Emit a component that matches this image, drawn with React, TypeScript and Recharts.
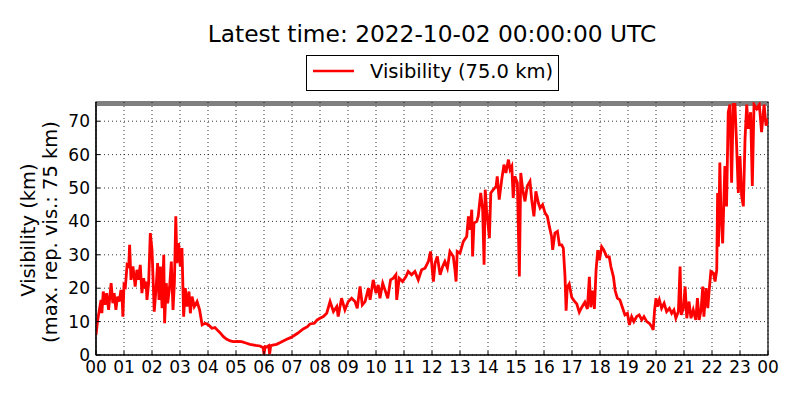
import React from 'react';
import {
  LineChart,
  Line,
  XAxis,
  YAxis,
  CartesianGrid,
  ReferenceLine,
  ReferenceArea,
} from 'recharts';

// Time of day in hours (UTC), one line per hour block
const hours: number[] = [
  0.0, 0.06, 0.12, 0.18, 0.21, 0.26, 0.32, 0.38, 0.45, 0.54, 0.6, 0.65, 0.71, 0.77, 0.83, 0.89, 0.93, 0.96,
  1.0, 1.05, 1.11, 1.17, 1.2, 1.25, 1.32, 1.4, 1.46, 1.52, 1.58, 1.64, 1.7, 1.76, 1.79, 1.82, 1.88, 1.94,
  2.0, 2.04, 2.08, 2.15, 2.2, 2.25, 2.3, 2.36, 2.42, 2.45, 2.51, 2.56, 2.63, 2.69, 2.75, 2.8, 2.85, 2.89, 2.95,
  3.01, 3.07, 3.13, 3.19, 3.25, 3.32, 3.37, 3.43, 3.51, 3.61, 3.7, 3.79, 3.9,
  4.02, 4.14, 4.25, 4.35, 4.43, 4.55, 4.67, 4.8, 4.9,
  5.05, 5.2, 5.35, 5.5, 5.7, 5.86, 5.97,
  6.0, 6.04, 6.1, 6.17, 6.2, 6.24, 6.35, 6.45, 6.6, 6.81, 6.95,
  7.05, 7.2, 7.4, 7.55, 7.64, 7.8, 7.9,
  8.0, 8.12, 8.24, 8.36, 8.48, 8.6, 8.65, 8.77, 8.89,
  9.01, 9.13, 9.25, 9.33, 9.43, 9.51, 9.61, 9.73, 9.79, 9.9,
  10.0, 10.08, 10.14, 10.24, 10.32, 10.42, 10.52, 10.62, 10.71, 10.74, 10.83, 10.95,
  11.07, 11.15, 11.27, 11.39, 11.51, 11.63, 11.75, 11.87, 11.95,
  12.05, 12.11, 12.19, 12.29, 12.38, 12.46, 12.55, 12.64, 12.76, 12.82, 12.86, 12.9,
  13.0, 13.12, 13.24, 13.3, 13.36, 13.42, 13.45, 13.5, 13.6, 13.65, 13.74, 13.81, 13.86, 13.9, 13.95,
  14.05, 14.1, 14.19, 14.29, 14.33, 14.4, 14.49, 14.57, 14.64, 14.73, 14.79, 14.85, 14.9, 14.96,
  15.05, 15.12, 15.17, 15.24, 15.32, 15.4, 15.5, 15.56, 15.64, 15.71, 15.8, 15.86, 15.95,
  16.04, 16.12, 16.19, 16.27, 16.31, 16.39, 16.48, 16.55, 16.63, 16.69, 16.75, 16.79, 16.83, 16.9, 16.99,
  17.07, 17.17, 17.26, 17.35, 17.46, 17.55, 17.62, 17.67, 17.74, 17.8, 17.86, 17.92, 17.98,
  18.06, 18.14, 18.24, 18.33, 18.39, 18.48, 18.54, 18.62, 18.71, 18.81, 18.89, 18.98,
  19.05, 19.13, 19.21, 19.31, 19.4, 19.49, 19.57, 19.67, 19.76, 19.85, 19.9, 19.95,
  20.0, 20.05, 20.12, 20.2, 20.29, 20.38, 20.48, 20.56, 20.64, 20.71, 20.8, 20.86, 20.9, 20.98,
  21.04, 21.1, 21.18, 21.25, 21.33, 21.42, 21.48, 21.54, 21.61, 21.67, 21.71, 21.79, 21.85, 21.9, 21.96,
  22.05, 22.11, 22.17, 22.2, 22.23, 22.28, 22.32, 22.38, 22.46, 22.52, 22.58, 22.64, 22.7, 22.76, 22.82, 22.88, 22.94,
  23.0, 23.06, 23.12, 23.18, 23.24, 23.3, 23.38, 23.44, 23.5, 23.6, 23.69, 23.77, 23.86, 23.93, 24.0,
];

// Visibility (km), same layout as hours
const visibility: number[] = [
  6, 10.5, 13.5, 16.5, 12.5, 19, 15, 18.5, 13.5, 21.5, 15.5, 18.5, 13.5, 17.5, 16, 19.5, 17.5, 11.5,
  21, 20.5, 27, 26.5, 33, 22.5, 26.5, 20.5, 25.5, 22.5, 27, 18.5, 23, 20, 22, 16.5, 21.5, 36.5,
  31.5, 22.5, 13, 20.5, 27.5, 16.5, 26.5, 14, 30, 9.5, 21.5, 15.5, 20.5, 28, 13.5, 21.5, 41.5, 27.5, 33.5,
  26.5, 32, 11.5, 20, 14.5, 19, 12.5, 17.5, 14.5, 16, 13.5, 9, 9.5,
  9, 8, 8.2, 7.3, 6.7, 5.5, 4.7, 4.2, 4,
  4.1, 4, 3.6, 3.2, 2.9, 2.7, 2.2,
  0.3, 2.5, 2.4, 2.8, 0.3, 2.8, 3, 3.2, 3.8, 4.7, 5.2,
  5.7, 6.5, 7.8, 8.5, 9.3, 9.5, 10.5,
  11, 11.5, 12.5, 16, 13, 14.5, 11.5, 17, 13.5,
  16, 17, 16, 14, 20.5, 15, 16, 20, 16.5, 22.5,
  18.5, 21, 17, 21.5, 19.5, 17, 22.5, 23, 24, 16.5, 23, 22,
  23.5, 25, 24, 25, 22.5, 25.5, 26, 28, 31,
  22, 27.5, 29.5, 24, 26.5, 28, 26, 31, 29.5, 25.5, 22, 31,
  30.5, 34, 35.5, 41.5, 37.5, 43.5, 29.5, 39.5, 40, 41.5, 48.5, 43.5, 27, 49.5, 43.5,
  35, 48.5, 49.5, 50.5, 53.5, 46.5, 52.5, 57, 54.5, 58.5, 55.5, 56.5, 47, 53.5,
  51.5, 23.5, 54.5, 49.5, 46, 50.5, 52, 46.5, 41.5, 49, 45.5, 44, 45,
  42.5, 41.5, 38.5, 35.5, 31.5, 36.5, 37, 33, 33, 32, 23.5, 13.3, 20.3, 21.3, 17.3,
  16.3, 15.3, 12.8, 14.3, 15.8, 13.8, 23.4, 14.3, 19.3, 13.8, 25.4, 31.4, 28.4,
  32.4, 31.4, 29.4, 29.4, 26.4, 23.4, 19.3, 17, 16.5, 14, 12, 12.5,
  9, 11.5, 10, 11.5, 12, 10.5, 11.5, 10, 9.5, 8.5, 7.5, 13.5,
  17, 14.5, 16.5, 14, 15.5, 13, 14, 12.5, 13.5, 11, 13, 26.5, 12, 14,
  20.5, 11, 16, 11, 13.5, 10.5, 17, 10.5, 13.5, 20.5, 11.5, 20, 14, 19.5, 25,
  24.5, 22, 25.5, 48.5, 32.4, 57.6, 42.5, 33.4, 56.6, 44.5, 72.7, 75, 51.6, 75, 75, 62.6, 48.5,
  59.6, 47.5, 44.5, 64.7, 75, 67.7, 72.7, 50.6, 75, 73.7, 75, 66.7, 75, 68.7, 70.7,
];

const xTicks: number[] = [0, 1, 2, 3, 4, 5, 6, 7, 8, 9, 10, 11, 12, 13, 14, 15, 16, 17, 18, 19, 20, 21, 22, 23, 24];
const yTicks: number[] = [0, 10, 20, 30, 40, 50, 60, 70];
const maxReported = 75;
const yMax = 75.75;

const titleText = 'Latest time: 2022-10-02 00:00:00 UTC';
const legendText = 'Visibility (75.0 km)';
const yLabel1 = 'Visibility (km)';
const yLabel2 = '(max. rep. vis.: 75 km)';

const data = hours.map((h, i) => ({ h, v: visibility[i] }));

const FONT = '"DejaVu Sans", Verdana, sans-serif';

const pad2 = (n: number) => String(n % 24).padStart(2, '0');

const YLabel = () => (
  <g>
    <text
      x={35}
      y={230}
      transform="rotate(-90, 35, 230)"
      textAnchor="middle"
      fontSize={19.5}
      fontFamily={FONT}
      fill="#000"
    >
      {yLabel1}
    </text>
    <text
      x={56.5}
      y={232}
      transform="rotate(-90, 56.5, 232)"
      textAnchor="middle"
      fontSize={19.5}
      fontFamily={FONT}
      fill="#000"
    >
      {yLabel2}
    </text>
  </g>
);

export default function App() {
  return (
    <div
      style={{
        position: 'absolute',
        left: 0,
        top: 0,
        width: 800,
        height: 400,
        background: '#fff',
        fontFamily: FONT,
      }}
    >
      <LineChart
        width={800}
        height={400}
        data={data}
        margin={{ top: 102, right: 32, bottom: 15, left: 0 }}
      >
        <CartesianGrid
          stroke="#000"
          strokeDasharray="1 3"
          strokeWidth={0.8}
          verticalValues={xTicks}
          horizontalValues={yTicks}
        />
        <XAxis
          dataKey="h"
          type="number"
          domain={[0, 24]}
          ticks={xTicks}
          interval={0}
          tickFormatter={pad2}
          height={30}
          axisLine={{ stroke: '#000', strokeWidth: 1.2 }}
          tickLine={{ stroke: '#000' }}
          tickSize={-4}
          tickMargin={10}
          tick={{ fontSize: 17, fill: '#000', fontFamily: FONT }}
          allowDataOverflow
        />
        <YAxis
          type="number"
          domain={[0, yMax]}
          ticks={yTicks}
          interval={0}
          width={96}
          axisLine={{ stroke: '#000', strokeWidth: 1.2 }}
          tickLine={{ stroke: '#000' }}
          tickSize={-4}
          tickMargin={10}
          tick={{ fontSize: 17, fill: '#000', fontFamily: FONT }}
          allowDataOverflow
          label={<YLabel />}
        />
        <ReferenceLine
          y={maxReported}
          stroke="#808080"
          strokeWidth={3}
          isFront={false}
        />
        <Line
          type="linear"
          dataKey="v"
          stroke="#ff0000"
          strokeWidth={2.8}
          dot={false}
          activeDot={false}
          isAnimationActive={false}
        />
        <ReferenceArea
          x1={0}
          x2={24}
          y1={0}
          y2={yMax}
          fill="none"
          stroke="#000"
          strokeWidth={1.2}
          fillOpacity={0}
        />
      </LineChart>
      <svg
        width={800}
        height={400}
        style={{ position: 'absolute', left: 0, top: 0, pointerEvents: 'none' }}
      >
        <text
          x={432}
          y={41.5}
          textAnchor="middle"
          fontSize={23.3}
          fontFamily={FONT}
          fill="#000"
        >
          {titleText}
        </text>
        <rect x={306.5} y={55.5} width={252} height={35} fill="#fff" stroke="#000" strokeWidth={1} />
        <line x1={313} x2={354} y1={71} y2={71} stroke="#ff0000" strokeWidth={2.7} />
        <text x={370} y={78} fontSize={19.5} fontFamily={FONT} fill="#000">
          {legendText}
        </text>
      </svg>
    </div>
  );
}
